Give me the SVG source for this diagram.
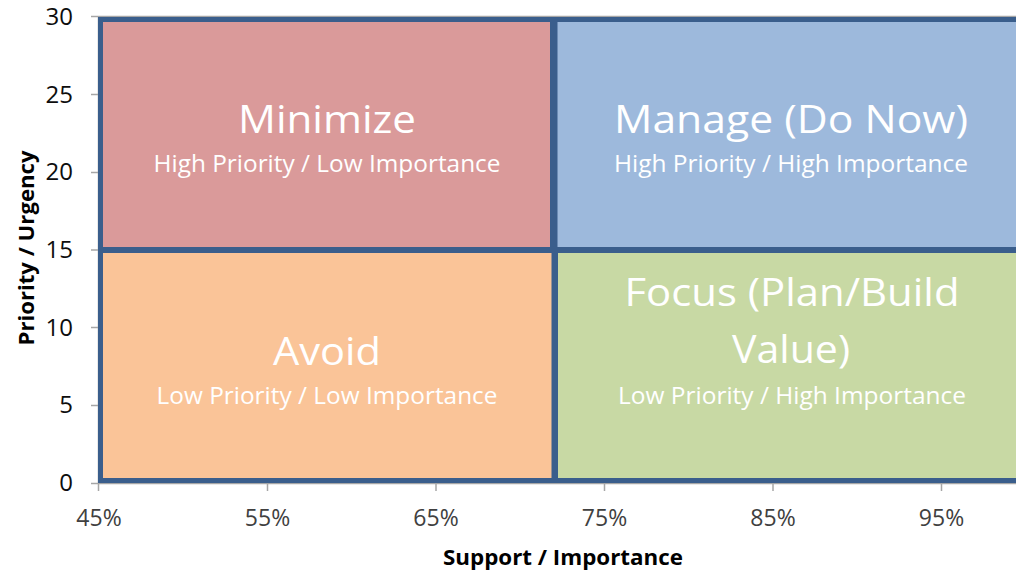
<svg xmlns="http://www.w3.org/2000/svg" width="1016" height="571" viewBox="0 0 1016 571">
  <style>
    .quad { stroke: #3A5E8C; stroke-width: 5; }
    .axis { stroke: #A6A6A6; stroke-width: 1.5; fill: none; }
    .title { font-family: "Open Sans", "Liberation Sans", sans-serif; font-size: 38px; fill: #FFFFFF; text-anchor: middle; }
    .sub { font-family: "Open Sans", "Liberation Sans", sans-serif; font-size: 23px; fill: #FFFFFF; text-anchor: middle; }
    .ytick { font-family: "Open Sans", "Liberation Sans", sans-serif; font-size: 24px; fill: #0D0D0D; text-anchor: end; }
    .xtick { font-family: "Open Sans", "Liberation Sans", sans-serif; font-size: 23px; fill: #404040; text-anchor: middle; }
    .axtitle { font-family: "Open Sans", "Liberation Sans", sans-serif; font-size: 21px; font-weight: bold; fill: #000000; text-anchor: middle; }
  </style>

  <rect width="1016" height="571" fill="#FFFFFF"/>

  <!-- plot frame and tick marks -->
  <g id="axes">
    <line class="axis" x1="91" y1="16.5" x2="1016" y2="16.5"/>
    <line class="axis" x1="98.5" y1="16" x2="98.5" y2="491"/>
    <line class="axis" x1="91" y1="483.5" x2="1016" y2="483.5"/>
    <path class="axis" d="M91 94.5H99 M91 172.5H99 M91 250H99 M91 327.5H99 M91 405.5H99"/>
    <path class="axis" d="M267.5 483V491 M436 483V491 M604.5 483V491 M773 483V491 M941.5 483V491"/>
  </g>

  <!-- quadrants -->
  <g id="q-minimize">
    <rect class="quad" x="100.5" y="19.5" width="452" height="230" fill="#DA9A9A"/>
    <text class="title" x="327" y="133" textLength="178" lengthAdjust="spacingAndGlyphs">Minimize</text>
    <text class="sub" x="327" y="172" textLength="347" lengthAdjust="spacingAndGlyphs">High Priority / Low Importance</text>
  </g>
  <g id="q-manage">
    <rect class="quad" x="555" y="19.5" width="475" height="230" fill="#9DB9DC"/>
    <text class="title" x="791" y="133" textLength="354" lengthAdjust="spacingAndGlyphs">Manage (Do Now)</text>
    <text class="sub" x="791" y="172" textLength="354" lengthAdjust="spacingAndGlyphs">High Priority / High Importance</text>
  </g>
  <g id="q-avoid">
    <rect class="quad" x="100.5" y="250.5" width="453.5" height="230" fill="#FAC498"/>
    <text class="title" x="327" y="365" textLength="108" lengthAdjust="spacingAndGlyphs">Avoid</text>
    <text class="sub" x="327" y="404" textLength="341" lengthAdjust="spacingAndGlyphs">Low Priority / Low Importance</text>
  </g>
  <g id="q-focus">
    <rect class="quad" x="555.5" y="250.5" width="475" height="230" fill="#C8D9A4"/>
    <text class="title" x="792" y="306" textLength="335" lengthAdjust="spacingAndGlyphs">Focus (Plan/Build</text>
    <text class="title" x="791" y="363" textLength="118" lengthAdjust="spacingAndGlyphs">Value)</text>
    <text class="sub" x="792" y="404" textLength="348" lengthAdjust="spacingAndGlyphs">Low Priority / High Importance</text>
  </g>

  <!-- y axis values -->
  <g id="y-labels">
    <text class="ytick" x="73" y="25">30</text>
    <text class="ytick" x="73" y="103">25</text>
    <text class="ytick" x="73" y="180">20</text>
    <text class="ytick" x="73" y="258">15</text>
    <text class="ytick" x="73" y="336">10</text>
    <text class="ytick" x="73" y="413">5</text>
    <text class="ytick" x="73" y="491">0</text>
  </g>

  <!-- x axis values -->
  <g id="x-labels">
    <text class="xtick" x="99" y="526">45%</text>
    <text class="xtick" x="267.5" y="526">55%</text>
    <text class="xtick" x="436" y="526">65%</text>
    <text class="xtick" x="604.5" y="526">75%</text>
    <text class="xtick" x="773" y="526">85%</text>
    <text class="xtick" x="941.5" y="526">95%</text>
  </g>

  <!-- axis titles -->
  <g id="axis-titles">
    <text class="axtitle" x="563" y="565" textLength="240" lengthAdjust="spacingAndGlyphs">Support / Importance</text>
    <text class="axtitle" transform="translate(34 248) rotate(-90)" x="0" y="0" textLength="195" lengthAdjust="spacingAndGlyphs">Priority / Urgency</text>
  </g>
</svg>
